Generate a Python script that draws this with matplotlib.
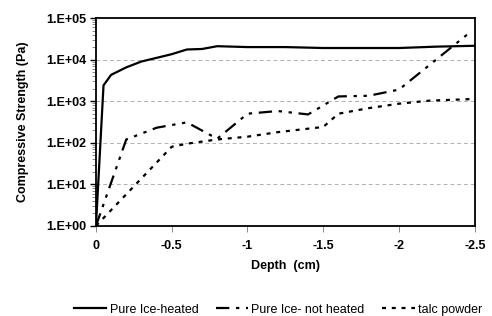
import numpy as np
import matplotlib.pyplot as plt
from matplotlib.ticker import LogLocator, NullFormatter

plt.rcParams['font.family'] = ['Liberation Sans', 'DejaVu Sans']

# Pure Ice-heated
depth_heated = [0, 0.05, 0.1, 0.2, 0.3, 0.4, 0.5, 0.6, 0.7, 0.8, 0.9, 1.0, 1.25, 1.5, 1.75, 2.0, 2.25, 2.5]
str_heated = [1, 2400, 4300, 6500, 9000, 11000, 13500, 17500, 18000, 21000, 20500, 20000, 20000, 19000, 19000, 19000, 20500, 21500]

# Pure Ice- not heated
depth_cold = [0, 0.2, 0.4, 0.6, 0.8, 1.0, 1.2, 1.4, 1.6, 1.8, 2.0, 2.45]
str_cold = [1, 120, 230, 310, 125, 500, 580, 480, 1300, 1350, 1900, 40000]

# talc powder
depth_talc = [0, 0.5, 0.6, 0.8, 1.0, 1.2, 1.5, 1.6, 1.8, 2.0, 2.2, 2.5]
str_talc = [1, 80, 95, 120, 140, 180, 240, 500, 680, 870, 1030, 1130]

x_ticks = [0, -0.5, -1, -1.5, -2, -2.5]
x_labels = ['0', '-0.5', '-1', '-1.5', '-2', '-2.5']
y_ticks = [1, 10, 100, 1000, 10000, 100000]
y_labels = ['1.E+00', '1.E+01', '1.E+02', '1.E+03', '1.E+04', '1.E+05']

fig = plt.figure(figsize=(4.92, 3.16), dpi=100)
ax = fig.add_axes([0.195, 0.285, 0.77, 0.658])

ax.plot(-np.array(depth_heated), str_heated, color='black', lw=1.6, label='Pure Ice-heated')
ax.plot(-np.array(depth_cold), str_cold, color='black', lw=1.6,
        linestyle=(0, (6, 3, 1.5, 3, 1.5, 3)), label='Pure Ice- not heated')
ax.plot(-np.array(depth_talc), str_talc, color='black', lw=1.6,
        linestyle=(0, (1.8, 2.6)), label='talc powder')

ax.set_yscale('log')
ax.set_ylim(1, 1e5)
ax.set_xlim(0, -2.5)

for v in y_ticks[1:-1]:
    ax.axhline(v, color='#b0b0b0', lw=0.7, linestyle=(0, (4, 3)), zorder=0)

ax.set_xticks(x_ticks)
ax.set_xticklabels(x_labels, fontsize=9, fontweight='bold')
ax.set_yticks(y_ticks)
ax.set_yticklabels(y_labels, fontsize=9, fontweight='bold')
ax.yaxis.set_minor_locator(LogLocator(base=10, subs=np.arange(2, 10), numticks=20))
ax.yaxis.set_minor_formatter(NullFormatter())
ax.tick_params(axis='y', which='major', length=4, width=1, color='black', pad=3)
ax.tick_params(axis='y', which='minor', length=3, width=0.6, color='#777777')
ax.tick_params(axis='x', which='major', length=4, width=0.6, color='#777777', pad=6)

for s in ax.spines.values():
    s.set_linewidth(1.3)

ax.set_xlabel('Depth  (cm)', fontsize=9, fontweight='bold', labelpad=6)
ax.set_ylabel('Compressive Strength (Pa)', fontsize=9, fontweight='bold', labelpad=12)

fig.legend(loc='lower center', bbox_to_anchor=(0.565, -0.035), ncol=3, frameon=False,
           fontsize=9, handlelength=2.6, columnspacing=1.4, handletextpad=0.25)

fig.savefig('out.png', dpi=100)
